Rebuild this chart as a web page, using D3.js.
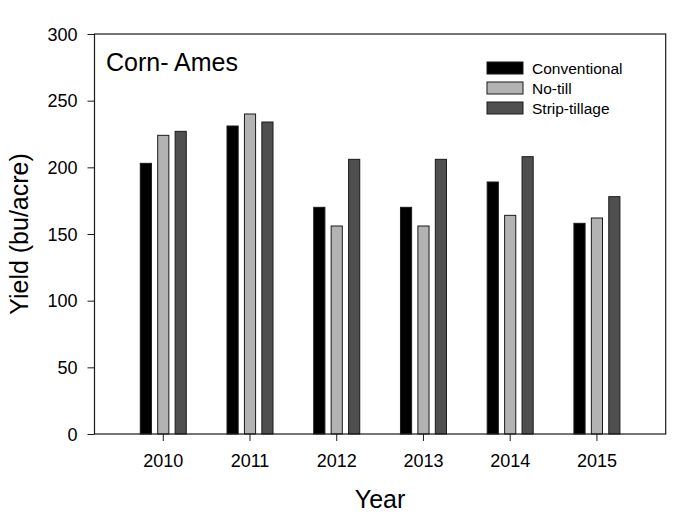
<!DOCTYPE html>
<html>
<head>
<meta charset="utf-8">
<script src="https://cdn.jsdelivr.net/npm/d3@7"></script>
<style>
  body { margin: 0; background: #fff; }
  text { font-family: "Liberation Sans", Arial, sans-serif; fill: #000; }
</style>
</head>
<body>
<div id="chart"></div>
<script>
// data
var years = ["2010", "2011", "2012", "2013", "2014", "2015"];
var series = ["Conventional", "No-till", "Strip-tillage"];
var conventional = [203, 231, 170, 170, 189, 158];
var noTill = [224, 240, 156, 156, 164, 162];
var stripTillage = [227, 234, 206, 206, 208, 178];
var yTicks = [0, 50, 100, 150, 200, 250, 300];
var colors = ["#000000", "#b3b3b3", "#4f4f4f"];

var values = [conventional, noTill, stripTillage];

var W = 700, H = 519;
var margin = { top: 34, bottom: 85, left: 94.5, right: 34.3 };
var width = W - margin.left - margin.right;
var height = H - margin.top - margin.bottom;

var svg = d3.select("#chart").append("svg")
    .attr("width", W)
    .attr("height", H);

var chart = svg.append("g")
    .attr("transform", "translate(" + margin.left + "," + margin.top + ")");

// scales
var x0 = d3.scaleBand().domain(years).range([0, width]).paddingInner(0).paddingOuter(0.293);
var x1 = d3.scaleBand().domain(series).range([-23, 23]).paddingInner(0.36).paddingOuter(0);
var y = d3.scaleLinear().domain([0, 300]).range([height, 0]);

// bars
var groups = chart.selectAll(".year")
    .data(years)
    .enter().append("g")
    .attr("class", "year")
    .attr("transform", function (d) { return "translate(" + (x0(d) + x0.bandwidth() / 2) + ",0)"; });

groups.selectAll("rect")
    .data(function (d, i) {
        return series.map(function (s, j) { return { s: s, j: j, v: values[j][i] }; });
    })
    .enter().append("rect")
    .attr("x", function (d) { return x1(d.s); })
    .attr("width", x1.bandwidth())
    .attr("y", function (d) { return y(d.v); })
    .attr("height", function (d) { return height - y(d.v); })
    .attr("fill", function (d) { return colors[d.j]; })
    .attr("stroke", "#1a1a1a")
    .attr("stroke-width", 1);

// frame
chart.append("rect")
    .attr("width", width)
    .attr("height", height)
    .attr("fill", "none")
    .attr("stroke", "#1a1a1a")
    .attr("stroke-width", 1.2);

// axes
var yAxis = chart.append("g")
    .call(d3.axisLeft(y).tickValues(yTicks).tickSize(7).tickPadding(10));
var xAxis = chart.append("g")
    .attr("transform", "translate(0," + height + ")")
    .call(d3.axisBottom(x0).tickSize(7).tickPadding(13.5));

[yAxis, xAxis].forEach(function (a) {
    a.select(".domain").remove();
    a.selectAll("line").attr("stroke", "#1a1a1a");
    a.selectAll("text").style("font-size", "18px").attr("fill", "#000");
});
yAxis.selectAll("text").attr("dy", "0.35em");

// titles
svg.append("text")
    .attr("transform", "translate(28," + (margin.top + height / 2) + ") rotate(-90)")
    .attr("text-anchor", "middle")
    .style("font-size", "25px")
    .text("Yield (bu/acre)");

svg.append("text")
    .attr("x", margin.left + width / 2)
    .attr("y", 508)
    .attr("text-anchor", "middle")
    .style("font-size", "25px")
    .text("Year");

svg.append("text")
    .attr("x", 106)
    .attr("y", 71)
    .style("font-size", "25px")
    .text("Corn- Ames");

// legend
var legend = svg.append("g").attr("transform", "translate(487,62)");
var items = legend.selectAll("g")
    .data(series)
    .enter().append("g")
    .attr("transform", function (d, i) { return "translate(0," + i * 20 + ")"; });
items.append("rect")
    .attr("width", 36)
    .attr("height", 12)
    .attr("fill", function (d, i) { return colors[i]; })
    .attr("stroke", "#1a1a1a")
    .attr("stroke-width", 1);
items.append("text")
    .attr("x", 45)
    .attr("y", 11.5)
    .style("font-size", "15.5px")
    .text(function (d) { return d; });
</script>
</body>
</html>
